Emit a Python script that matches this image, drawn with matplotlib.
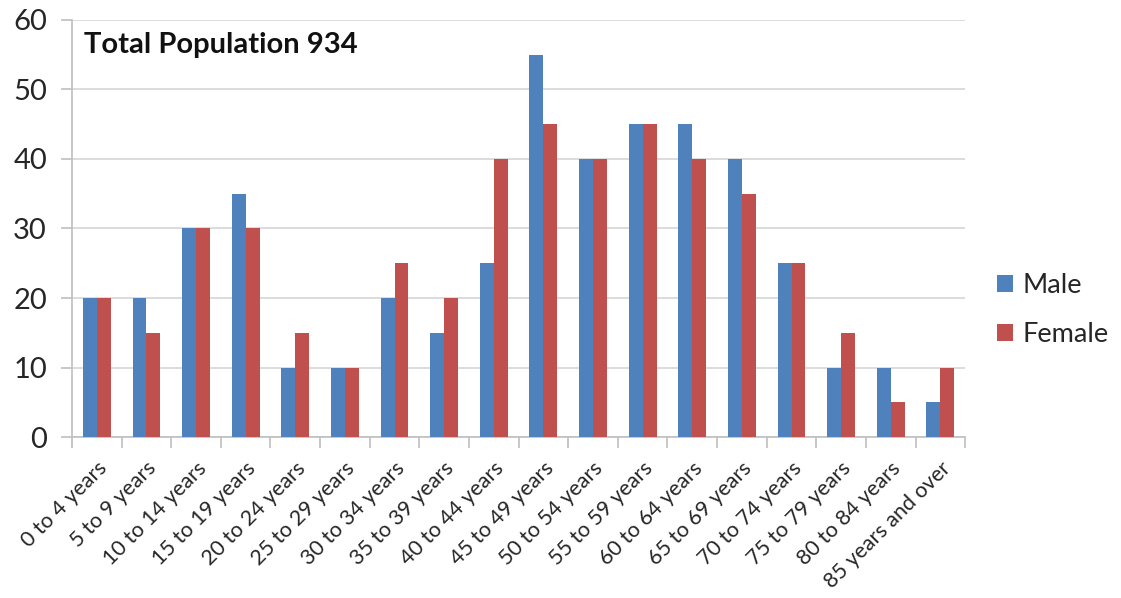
import matplotlib.pyplot as plt
import numpy as np

plt.rcParams['font.family'] = ['Lato', 'DejaVu Sans']

age_groups = ['0 to 4 years', '5 to 9 years', '10 to 14 years', '15 to 19 years',
              '20 to 24 years', '25 to 29 years', '30 to 34 years', '35 to 39 years',
              '40 to 44 years', '45 to 49 years', '50 to 54 years', '55 to 59 years',
              '60 to 64 years', '65 to 69 years', '70 to 74 years', '75 to 79 years',
              '80 to 84 years', '85 years and over']
male = [20, 20, 30, 35, 10, 10, 20, 15, 25, 55, 40, 45, 45, 40, 25, 10, 10, 5]
female = [20, 15, 30, 30, 15, 10, 25, 20, 40, 45, 40, 45, 40, 35, 25, 15, 5, 10]
total_population = 934

blue = '#4F81BD'
red = '#C0504D'
grid_grey = '#D9D9D9'
axis_grey = '#BFBFBF'

fig = plt.figure(figsize=(11.21, 5.98), dpi=100)
ax = fig.add_axes([0.0642, 0.2692, 0.7968, 0.6974])

x = np.arange(len(age_groups))
w = 0.28
ax.bar(x - w / 2, male, w, color=blue, label='Male', zorder=3)
ax.bar(x + w / 2, female, w, color=red, label='Female', zorder=3)

ax.set_xlim(-0.5, len(age_groups) - 0.5)
ax.set_ylim(0, 60)
ax.set_yticks(range(0, 61, 10))
ax.yaxis.grid(True, color=grid_grey, linewidth=1.3, zorder=0)

# tick marks sit on category boundaries, labels sit under each group
ax.set_xticks(np.arange(-0.5, len(age_groups), 1))
ax.set_xticklabels([])
ax.set_xticks(x, minor=True)
ax.set_xticklabels(age_groups, minor=True, rotation=45, ha='right',
                   rotation_mode='anchor', fontsize=15.5, color='#262626')
ax.tick_params(axis='x', which='major', length=8, color=axis_grey, width=1.2)
ax.tick_params(axis='x', which='minor', length=0, pad=15)
ax.tick_params(axis='y', length=8, color=axis_grey, width=1.2, labelsize=21,
               labelcolor='#262626', pad=10)

for side in ['top', 'right']:
    ax.spines[side].set_visible(False)
for side in ['left', 'bottom']:
    ax.spines[side].set_color(axis_grey)
    ax.spines[side].set_linewidth(1.2)

ax.text(0.014, 0.97, 'Total Population %d' % total_population, transform=ax.transAxes,
        fontsize=21, fontweight='bold', va='top', ha='left', color='#111111')

ax.legend(loc='center left', bbox_to_anchor=(1.008, 0.305), frameon=False,
          fontsize=19.5, handlelength=0.6, handleheight=0.6, handletextpad=0.35,
          labelspacing=0.88, labelcolor='#262626')

fig.savefig('out.png', dpi=100)
